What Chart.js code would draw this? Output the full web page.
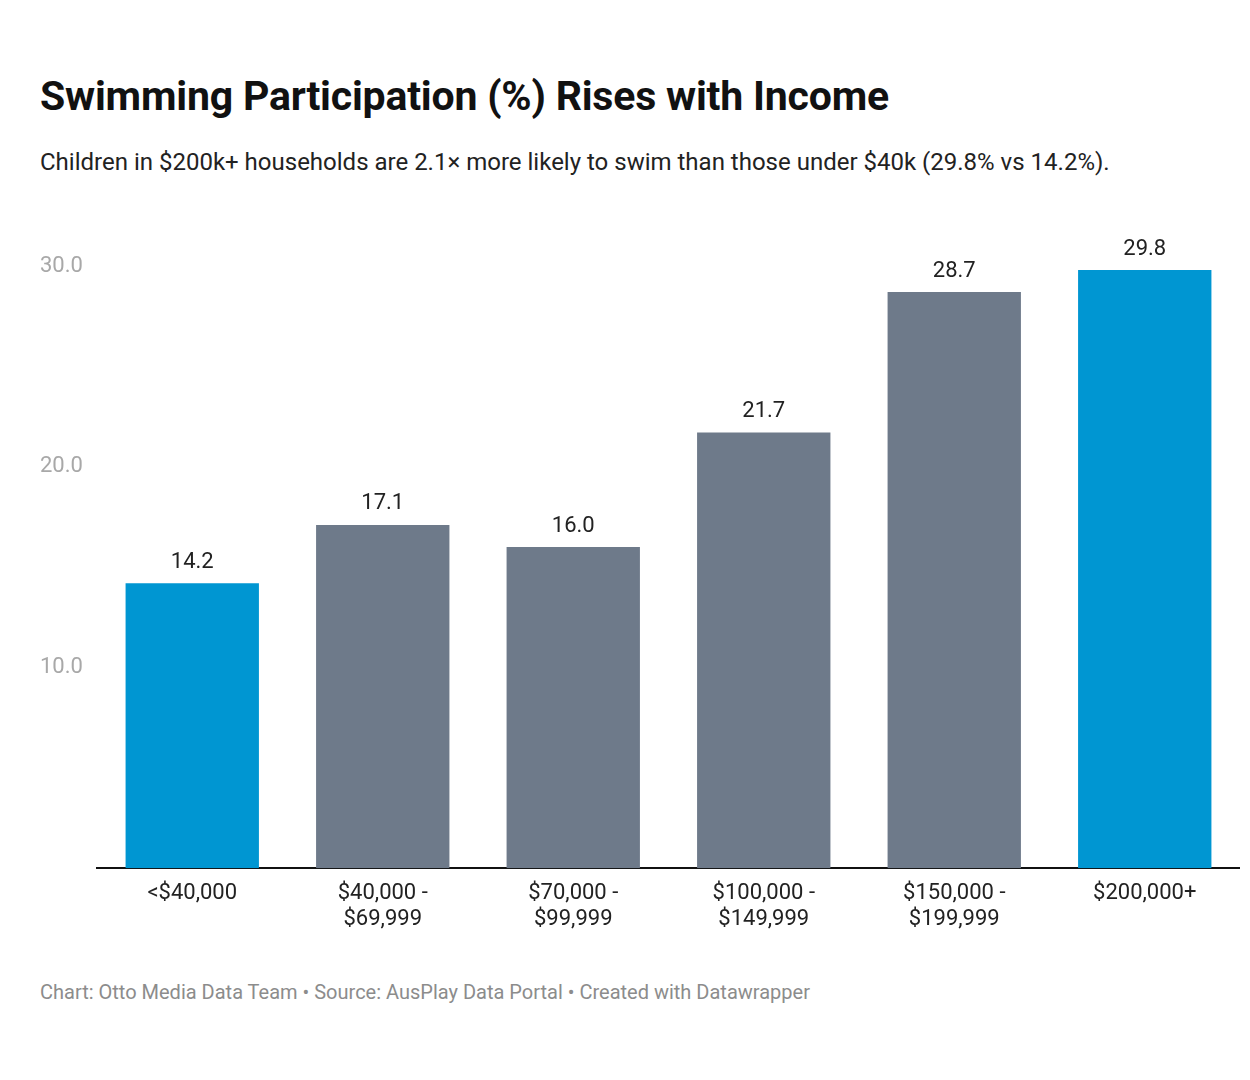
<!DOCTYPE html>
<html>
<head>
<meta charset="utf-8">
<script src="https://cdn.jsdelivr.net/npm/chart.js@4"></script>
<style>
  body { margin:0; background:#fff; font-family: Roboto, sans-serif; }
  #wrap { position:relative; width:1250px; height:1080px; }
  h1 { position:absolute; left:40px; top:72px; margin:0; font-size:41px; font-weight:700; color:#111; letter-spacing:-0.2px; }
  .sub { position:absolute; left:40px; top:145px; width:1170px; margin:0; font-size:24px; line-height:34px; color:#222; }
  .foot { position:absolute; left:40px; top:980px; font-size:20px; color:#8c8c8c; }
  #box { position:absolute; left:40px; top:220px; width:1200px; height:725px; }
</style>
</head>
<body>
<div id="wrap">
  <h1>Swimming Participation (%) Rises with Income</h1>
  <p class="sub">Children in $200k+ households are 2.1× more likely to swim than those under $40k (29.8% vs 14.2%).</p>
  <div id="box"><canvas id="swimChart"></canvas></div>
  <div class="foot">Chart: Otto Media Data Team • Source: AusPlay Data Portal • Created with Datawrapper</div>
</div>
<script>
// participation by household income
const incomeData = {
    labels: [['<$40,000'], ['$40,000 -', '$69,999'], ['$70,000 -', '$99,999'],
             ['$100,000 -', '$149,999'], ['$150,000 -', '$199,999'], ['$200,000+']],
    values: [14.2, 17.1, 16.0, 21.7, 28.7, 29.8]
};
const BLUE = '#0096d2', GREY = '#6e7a8a';
const colors = incomeData.values.map((v, i) => (i === 0 || i === 5) ? BLUE : GREY);

// value labels above bars
const valueLabels = {
    id: 'valueLabels',
    afterDatasetsDraw(chart) {
        const ctx = chart.ctx;
        ctx.save();
        ctx.font = '22px Roboto';
        ctx.fillStyle = '#222';
        ctx.textAlign = 'center';
        ctx.textBaseline = 'bottom';
        chart.getDatasetMeta(0).data.forEach((bar, i) => {
            ctx.fillText(incomeData.values[i].toFixed(1), bar.x, bar.y - 10);
        });
        ctx.restore();
    }
};

new Chart(document.getElementById('swimChart'), {
    type: 'bar',
    data: {
        labels: incomeData.labels,
        datasets: [{
            data: incomeData.values,
            backgroundColor: colors,
            categoryPercentage: 0.7,
            barPercentage: 1
        }]
    },
    options: {
        responsive: true,
        maintainAspectRatio: false,
        animation: false,
        layout: { padding: { top: 46 } },
        plugins: { legend: { display: false }, tooltip: { enabled: false } },
        scales: {
            x: {
                grid: { display: false, drawTicks: false },
                border: { color: '#111', width: 2 },
                ticks: { color: '#222', font: { family: 'Roboto', size: 22 }, padding: 12, maxRotation: 0 }
            },
            y: {
                min: 0, max: 30,
                afterFit: s => { s.width = 57; },
                grid: { display: false, drawTicks: false },
                border: { display: false },
                ticks: {
                    stepSize: 10, crossAlign: 'far', padding: 0,
                    color: '#a8a8a8', font: { family: 'Roboto', size: 22 },
                    callback: v => v === 0 ? '' : v.toFixed(1)
                }
            }
        }
    },
    plugins: [valueLabels]
});
</script>
</body>
</html>
